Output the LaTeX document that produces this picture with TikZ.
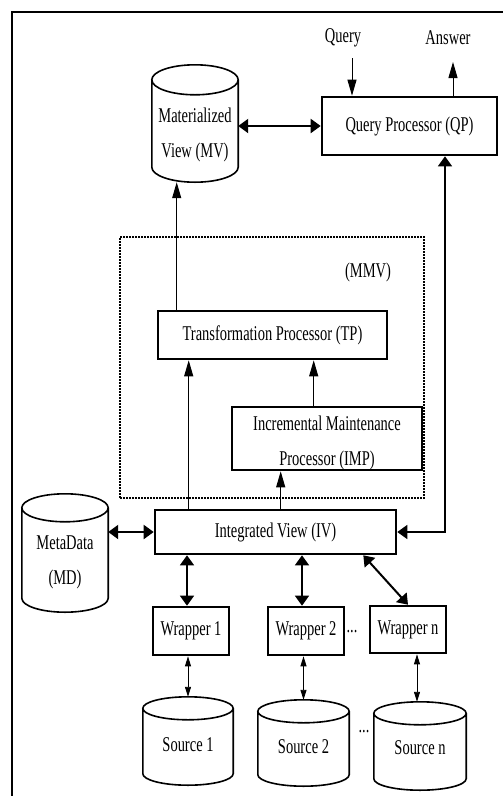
\documentclass[tikz,border=0pt]{standalone}
\usepackage{fontspec}
\setmainfont[FakeStretch=0.69]{Liberation Serif}
\usetikzlibrary{arrows.meta,positioning,calc}

% cylinder outline around a named node: #1 node, #2 half height of the end ellipse
\newcommand\dbdraw[2]{%
  \draw[line width=1.6pt] let \p1=(#1.north west), \p2=(#1.south east),
      \n1={(\x2-\x1)/2}, \n2={(\x1+\x2)/2} in
    (\n2,\y1-#2pt) ellipse [x radius=\n1, y radius=#2pt]
    (\x1,\y1-#2pt) -- (\x1,\y2+#2pt)
      arc [start angle=180, end angle=360, x radius=\n1, y radius=#2pt] -- (\x2,\y1-#2pt);}

\begin{document}
\begin{tikzpicture}[x=1pt, y=-1pt, font=\fontsize{21}{35}\selectfont,
    box/.style={draw, line width=2.6pt, inner sep=0pt, align=center},
    db/.style={inner sep=0pt},
    tip/.style={-{Triangle[length=16pt,width=9pt]}, line width=1pt},
    dbl/.style={{Triangle[length=10pt,width=14pt]}-{Triangle[length=10pt,width=14pt]}, line width=2pt},
    thindbl/.style={{Triangle[length=10pt,width=6pt]}-{Triangle[length=10pt,width=6pt]}, line width=0.9pt}]
    \useasboundingbox (0,0) rectangle (503,796);
    \clip (0,0) rectangle (503,796);
    \draw[line width=2.6pt] (12,800) |- (510,12);

    % top row
    \node[db, minimum width=86, minimum height=117,
          label={[align=center, yshift=-11pt]center:Materialized\\View (MV)}] (mv) at (195,123.5) {};
    \dbdraw{mv}{15}
    \node[box, minimum width=175, minimum height=58] (qp) at (409.5,126) {Query Processor (QP)};
    \node (query) at (343,38) {Query};
    \node (answer) at (448,38) {Answer};
    \coordinate (qin) at (352,58);
    \coordinate (aout) at (453,62);

    % MMV block
    \node[draw, line width=1.5pt, dash pattern=on 2pt off 1pt, minimum width=304, minimum height=261] (mmv) at (272,367.5) {};
    \node (mmvlabel) at (368,272) {(MMV)};
    \node[box, minimum width=229, minimum height=48] (tp) at (272.5,335) {Transformation Processor (TP)};
    \node[box, minimum width=190, minimum height=63,
          label={[align=center, yshift=-4pt]center:Incremental Maintenance\\Processor (IMP)}] (imp) at (327,438.5) {};

    % integration layer
    \node[box, minimum width=241, minimum height=44] (iv) at (275.5,532) {Integrated View (IV)};
    \node[db, minimum width=86, minimum height=118,
          label={[align=center, yshift=-9pt]center:MetaData\\(MD)}] (md) at (65,553) {};
    \dbdraw{md}{14}
    \node[box, minimum width=76, minimum height=48] (w1) at (191,631) {Wrapper 1};
    \node[box, minimum width=76, minimum height=48] (w2) at (306,631) {Wrapper 2};
    \node[box, minimum width=76, minimum height=47] (wn) at (408,629.5) {Wrapper n};
    \node (dotsw) at (352,632) {...};

    % sources
    \node[db, minimum width=90, minimum height=88, label={[yshift=-4pt]center:Source 1}] (s1) at (188,741) {};
    \node[db, minimum width=91, minimum height=86, label={[yshift=-4pt]center:Source 2}] (s2) at (303.5,743) {};
    \node[db, minimum width=92, minimum height=88, label={[yshift=-2pt]center:Source n}] (sn) at (420,746) {};
    \dbdraw{s1}{11.5}
    \dbdraw{s2}{11.5}
    \dbdraw{sn}{11.5}
    \node (dotss) at (364,732) {...};

    % connectors
    \draw[tip] (qin) -- (qin |- qp.north);
    \draw[tip] (aout |- qp.north) -- (aout);
    \draw[dbl] (mv.east |- qp.west) -- (qp.west);
    \draw[tip] ([xshift=20pt]tp.north west) -- ([xshift=20pt]tp.north west |- mv.south);
    \draw[tip] ([xshift=35pt]iv.north west) -- ([xshift=35pt]iv.north west |- tp.south);
    \draw[tip] ([xshift=83pt]imp.north west) -- ([xshift=83pt]imp.north west |- tp.south);
    \draw[tip] ([xshift=127pt]iv.north west) -- ([xshift=127pt]iv.north west |- imp.south);
    \draw[dbl, line width=1.4pt] (iv.east) -| ([xshift=35.5pt]qp.south);
    \draw[dbl] (iv.west -| md.east) -- (iv.west);
    \draw[dbl, line width=1.4pt] ([xshift=-4pt]w1.north) -- ([xshift=-4pt]w1.north |- iv.south);
    \draw[dbl, line width=1.4pt] ([xshift=-4pt]w2.north) -- ([xshift=-4pt]w2.north |- iv.south);
    \draw[dbl] ([xshift=-34pt]iv.south east) -- (wn.north);
    \draw[thindbl] (s1.north |- w1.south) -- (s1.north);
    \draw[thindbl] (s2.north |- w2.south) -- (s2.north);
    \draw[thindbl] ([xshift=9pt]wn.south) -- ([xshift=9pt]wn.south |- sn.north);
\end{tikzpicture}
\end{document}
